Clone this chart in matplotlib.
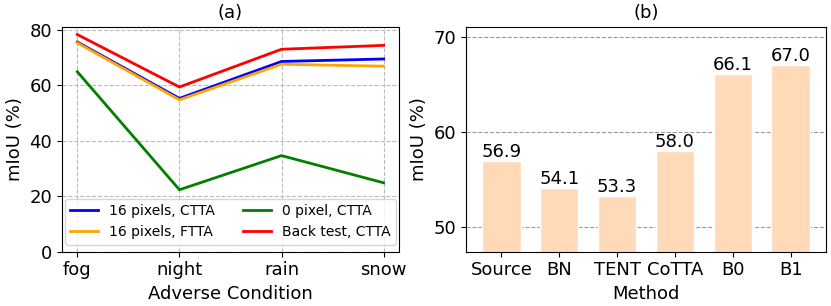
import matplotlib
matplotlib.use('Agg')
import matplotlib.pyplot as plt

conditions = ['fog', 'night', 'rain', 'snow']
ctta_16 = [75.5, 55.2, 68.5, 69.4]
ftta_16 = [75.2, 54.7, 67.5, 66.8]
ctta_0 = [64.8, 22.3, 34.6, 24.8]
back_test = [78.2, 59.3, 72.9, 74.3]

methods = ['Source', 'BN', 'TENT', 'CoTTA', 'B0', 'B1']
miou = [56.9, 54.1, 53.3, 58.0, 66.1, 67.0]

plt.rcParams['font.size'] = 13

fig = plt.figure(figsize=(8.31, 3.06), dpi=100)
ax1 = fig.add_axes([0.0746, 0.1775, 0.4055, 0.735])
ax2 = fig.add_axes([0.5608, 0.1775, 0.4332, 0.735])

'''LEFT: LINES'''
ax1.plot(conditions, ctta_16, color='blue', lw=2, label='16 pixels, CTTA')
ax1.plot(conditions, ftta_16, color='orange', lw=2, label='16 pixels, FTTA')
ax1.plot(conditions, ctta_0, color='green', lw=2, label='0 pixel, CTTA')
ax1.plot(conditions, back_test, color='red', lw=2, label='Back test, CTTA')
ax1.set_ylim(bottom=0)
ax1.grid(True, linestyle='--', color='#bbbbbb')
ax1.set_title('(a)', fontsize=13)
ax1.set_xlabel('Adverse Condition')
ax1.set_ylabel('mIoU (%)')
ax1.legend(ncol=2, loc='lower center', fontsize=10)

'''RIGHT: BARS'''
bars = ax2.bar(methods, miou, width=0.66, color='peachpuff', edgecolor='white', zorder=2)
for b, v in zip(bars, miou):
    ax2.text(b.get_x() + b.get_width() / 2, v, f'{v:.1f}', ha='center', va='bottom')
ax2.set_ylim(47.4, 71.05)
ax2.set_yticks([50, 60, 70])
ax2.yaxis.grid(True, linestyle='--', color='gray', alpha=0.8)
ax2.set_axisbelow(True)
ax2.set_title('(b)', fontsize=13)
ax2.set_xlabel('Method')
ax2.set_ylabel('mIoU (%)')

plt.savefig('out.png')
